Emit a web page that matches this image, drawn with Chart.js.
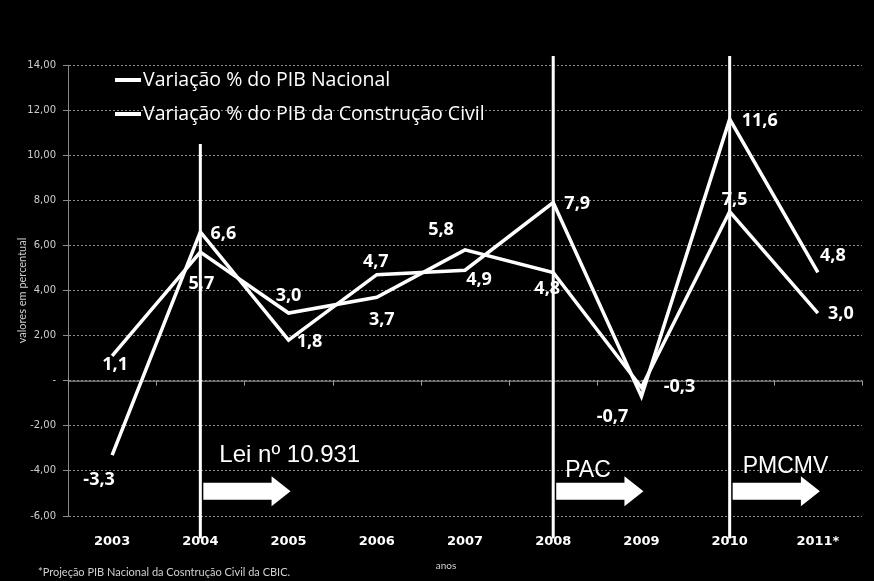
<!DOCTYPE html>
<html>
<head>
<meta charset="utf-8">
<script src="https://cdn.jsdelivr.net/npm/chart.js@4"></script>
<style>
  html, body { margin: 0; padding: 0; background: #000; }
  #wrap { width: 874px; height: 581px; }
</style>
</head>
<body>
<div id="wrap"><canvas id="chart" width="874" height="581"></canvas></div>
<script>
// data
const years = ['2003', '2004', '2005', '2006', '2007', '2008', '2009', '2010', '2011*'];
const pibNacional = [1.1, 5.7, 3.0, 3.7, 5.8, 4.8, -0.3, 7.5, 3.0];
const pibConstrucao = [-3.3, 6.6, 1.8, 4.7, 4.9, 7.9, -0.7, 11.6, 4.8];
const seriesNames = ['Variação % do PIB Nacional', 'Variação % do PIB da Construção Civil'];

// where each value label sits relative to its point (px)
const labelShiftNac = [[3, 9], [1, 32], [0, -17], [5, 23], [-24, -20], [-6, 16], [38, -1], [5, -12], [23, 1]];
const labelShiftCon = [[-13, 25], [23, 2], [21, 2], [-1, -13], [14, 10], [24, 1], [-29, 20], [30, 2], [15, -17]];

// vertical markers with their programme arrows
const markers = [
  { year: '2004', top: 10.5, text: 'Lei nº 10.931', textDx: 19, textY: -3.3, size: 24 },
  { year: '2008', top: 14.4, text: 'PAC', textDx: 12, textY: -4.0, size: 23 },
  { year: '2010', top: 14.4, text: 'PMCMV', textDx: 13, textY: -3.8, size: 23 }
];

const fmt = (v) => v.toFixed(1).replace('.', ',');

const overlay = {
  id: 'overlay',
  beforeDatasetsDraw(chart) {
    const { ctx, chartArea } = chart;
    const y = chart.scales.y;
    const y0 = y.getPixelForValue(0);
    ctx.save();
    // solid zero line with small ticks between categories
    ctx.strokeStyle = '#9a9a9a';
    ctx.lineWidth = 1;
    ctx.beginPath();
    ctx.moveTo(chartArea.left, y0 + 0.5);
    ctx.lineTo(chartArea.right, y0 + 0.5);
    for (let i = 0; i <= years.length; i++) {
      const px = Math.round(chartArea.left + (chartArea.right - chartArea.left) * i / years.length) + 0.5;
      ctx.moveTo(px, y0);
      ctx.lineTo(px, y0 + 5);
    }
    ctx.stroke();
    ctx.restore();
  },
  afterDatasetsDraw(chart) {
    const { ctx, chartArea } = chart;
    const x = chart.scales.x;
    const y = chart.scales.y;
    ctx.save();

    // value labels
    ctx.fillStyle = '#fff';
    ctx.font = 'bold 18px "Open Sans", sans-serif';
    ctx.textAlign = 'center';
    ctx.textBaseline = 'middle';
    [[pibNacional, labelShiftNac], [pibConstrucao, labelShiftCon]].forEach(([vals, shifts]) => {
      vals.forEach((v, i) => {
        const px = x.getPixelForValue(i);
        const py = y.getPixelForValue(v);
        ctx.fillText(fmt(v), px + shifts[i][0], py + shifts[i][1]);
      });
    });

    // vertical markers, arrows and texts
    markers.forEach((m) => {
      const idx = years.indexOf(m.year);
      const mx = x.getPixelForValue(idx);
      const nx = x.getPixelForValue(idx + 1);
      ctx.strokeStyle = '#fff';
      ctx.lineWidth = 3;
      ctx.beginPath();
      ctx.moveTo(mx, y.getPixelForValue(m.top));
      ctx.lineTo(mx, y.getPixelForValue(-7.0));
      ctx.stroke();

      const ay = y.getPixelForValue(-4.9);
      const start = mx + 3;
      const tip = nx + 2;
      const headLen = 19;
      ctx.fillStyle = '#fff';
      ctx.beginPath();
      ctx.moveTo(start, ay - 8.5);
      ctx.lineTo(tip - headLen, ay - 8.5);
      ctx.lineTo(tip - headLen, ay - 15);
      ctx.lineTo(tip, ay);
      ctx.lineTo(tip - headLen, ay + 15);
      ctx.lineTo(tip - headLen, ay + 8.5);
      ctx.lineTo(start, ay + 8.5);
      ctx.closePath();
      ctx.fill();

      ctx.font = m.size + 'px "Liberation Sans", sans-serif';
      ctx.textAlign = 'left';
      ctx.textBaseline = 'middle';
      ctx.fillText(m.text, mx + m.textDx, y.getPixelForValue(m.textY));
    });

    // legend inside the plot
    ctx.font = '19.5px "Open Sans", sans-serif';
    ctx.textAlign = 'left';
    ctx.textBaseline = 'middle';
    chart.data.datasets.forEach((ds, i) => {
      const ly = chartArea.top + 15 + i * 34;
      ctx.strokeStyle = '#fff';
      ctx.lineWidth = 4;
      ctx.beginPath();
      ctx.moveTo(chartArea.left + 47, ly);
      ctx.lineTo(chartArea.left + 73, ly);
      ctx.stroke();
      ctx.fillStyle = '#fff';
      ctx.fillText(ds.label, chartArea.left + 75, ly);
    });

    // axis name and footnote
    ctx.fillStyle = '#d0d0d0';
    ctx.font = '10px Lato, "Open Sans", sans-serif';
    ctx.textAlign = 'center';
    ctx.fillText('anos', 446, 566);
    ctx.textAlign = 'left';
    ctx.font = '11px Lato, "Open Sans", sans-serif';
    ctx.fillText('*Projeção PIB Nacional da Cosntrução Civil da CBIC.', 38, 572);
    ctx.restore();
  }
};

new Chart(document.getElementById('chart'), {
  type: 'line',
  data: {
    labels: years,
    datasets: [
      { label: seriesNames[0], data: pibNacional, borderColor: '#fff', borderWidth: 3.5, pointRadius: 0, tension: 0 },
      { label: seriesNames[1], data: pibConstrucao, borderColor: '#fff', borderWidth: 3.5, pointRadius: 0, tension: 0 }
    ]
  },
  options: {
    responsive: false,
    animation: false,
    layout: { padding: { top: 65, right: 12, left: 0, bottom: 0 } },
    plugins: {
      legend: { display: false },
      tooltip: { enabled: false }
    },
    scales: {
      x: {
        offset: true,
        grid: { display: false },
        border: { display: false },
        ticks: {
          color: '#fff',
          padding: 10,
          font: { family: 'DejaVu Sans', size: 13, weight: 'bold' }
        },
        afterFit(scale) { scale.height = 65; }
      },
      y: {
        min: -6,
        max: 14,
        ticks: {
          stepSize: 2,
          color: '#cfcfcf',
          padding: 7,
          font: { family: 'DejaVu Sans', size: 10 },
          callback: (v) => (v === 0 ? '-' : v.toFixed(2).replace('.', ','))
        },
        grid: { color: '#8a8a8a', lineWidth: 1, tickLength: 5 },
        border: { color: '#8a8a8a', dash: [2, 2] },
        title: {
          display: true,
          text: 'valores em percentual',
          color: '#cfcfcf',
          padding: { top: 16, bottom: 0 },
          font: { family: 'Lato', size: 11 }
        },
        afterFit(scale) { scale.width = 68; }
      }
    }
  },
  plugins: [overlay]
});
</script>
</body>
</html>
